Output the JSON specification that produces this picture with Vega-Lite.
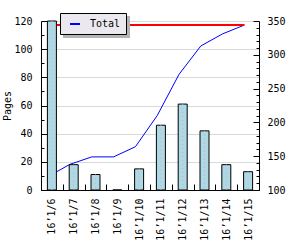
{
  "$schema": "https://vega.github.io/schema/vega-lite/v6.json",
  "width": 218,
  "height": 169,
  "autosize": "none",
  "padding": {"left": 41, "top": 21, "right": 41, "bottom": 60},
  "background": "white",
  "config": {
    "view": {"stroke": null},
    "font": "DejaVu Sans Mono",
    "axis": {
      "labelFont": "DejaVu Sans Mono",
      "labelFontSize": 10,
      "labelColor": "black",
      "titleFont": "DejaVu Sans Mono",
      "titleFontSize": 10,
      "titleFontWeight": "normal",
      "titleColor": "black",
      "domainColor": "black",
      "tickColor": "black",
      "grid": false
    }
  },
  "data": {
    "values": [
      {"day": "16’1/6", "pages": 120, "total": 120},
      {"day": "16’1/7", "pages": 18, "total": 138},
      {"day": "16’1/8", "pages": 11, "total": 149},
      {"day": "16’1/9", "pages": 0, "total": 149},
      {"day": "16’1/10", "pages": 15, "total": 164},
      {"day": "16’1/11", "pages": 46, "total": 210},
      {"day": "16’1/12", "pages": 61, "total": 271},
      {"day": "16’1/13", "pages": 42, "total": 313},
      {"day": "16’1/14", "pages": 18, "total": 331},
      {"day": "16’1/15", "pages": 13, "total": 344}
    ]
  },
  "layer": [
    {
      "mark": {"type": "line", "color": "#0000ff", "strokeWidth": 1},
      "encoding": {
        "x": {"field": "day", "type": "ordinal", "sort": null, "bandPosition": 0.33,
              "scale": {"paddingInner": 0, "paddingOuter": 0}},
        "y": {"field": "total", "type": "quantitative",
              "scale": {"domain": [100, 350], "nice": false, "zero": false},
              "axis": {"orient": "right", "values": [100, 150, 200, 250, 300, 350], "tickSize": -6,
                       "labelPadding": 14, "title": null, "grid": false}},
        "color": {"datum": "Total", "type": "nominal", "scale": {"range": ["#0000ff"]},
                  "legend": {"orient": "none", "legendX": 19, "legendY": -8, "title": null,
                             "fillColor": "#ebe9ef", "strokeColor": "black", "padding": 5,
                             "symbolType": "stroke", "symbolStrokeWidth": 2, "symbolSize": 100,
                             "symbolOffset": 4, "labelOffset": 9,
                             "labelFont": "DejaVu Sans Mono", "labelFontSize": 10, "labelColor": "black",
                             "zindex": 2}}
      }
    },
    {
      "mark": {"type": "line", "color": "#ff0000", "strokeWidth": 2},
      "encoding": {
        "x": {"field": "day", "type": "ordinal", "sort": null, "bandPosition": 0.33},
        "y": {"datum": 344, "type": "quantitative",
              "scale": {"domain": [100, 350], "nice": false, "zero": false},
              "axis": {"orient": "right",
                       "values": [110, 120, 130, 140, 160, 170, 180, 190, 210, 220, 230, 240, 260, 270, 280, 290, 310, 320, 330, 340],
                       "tickSize": -3, "labels": false, "domain": false, "title": null, "grid": false}},
        "opacity": {"datum": "TOTAL", "type": "ordinal", "scale": {"range": [1]},
                    "legend": {"orient": "none", "legendX": 22, "legendY": -5, "title": null,
                               "fillColor": "#b4b4b4", "strokeColor": null, "padding": 5,
                               "symbolType": "stroke", "symbolStrokeWidth": 1, "symbolSize": 144,
                               "symbolOffset": 42, "labelOffset": 0, "symbolOpacity": 0,
                               "symbolStrokeColor": "transparent",
                               "labelExpr": "''",
                               "labelFontSize": 10, "labelColor": "transparent",
                               "zindex": 1}}
      }
    },
    {
      "mark": {"type": "bar", "fill": "#add8e6", "stroke": "black", "strokeWidth": 1, "width": 9},
      "encoding": {
        "x": {"field": "day", "type": "ordinal", "sort": null,
              "axis": {"orient": "bottom", "tickBand": "extent", "tickSize": -6, "labelAngle": -90,
                       "labelPadding": 14, "title": null, "grid": false}},
        "y": {"field": "pages", "type": "quantitative",
              "scale": {"domain": [0, 120], "nice": false},
              "axis": {"orient": "left", "values": [0, 20, 40, 60, 80, 100, 120], "tickSize": -6,
                       "labelPadding": 15, "grid": true, "gridColor": "#d9d9d9", "title": "Pages",
                       "titlePadding": 1}}
      }
    },
    {
      "mark": {"type": "rule", "color": "#eaa898", "strokeWidth": 1, "strokeDash": [1, 3]},
      "encoding": {
        "x": {"field": "day", "type": "ordinal", "sort": null},
        "y": {"field": "pages", "type": "quantitative",
              "scale": {"domain": [0, 120], "nice": false},
              "axis": {"orient": "left", "values": [10, 30, 50, 70, 90, 110], "tickSize": -3,
                       "labels": false, "domain": false, "title": null, "grid": false}},
        "y2": {"datum": 0}
      }
    }
  ],
  "resolve": {"scale": {"y": "independent"}, "axis": {"y": "independent"}}
}
